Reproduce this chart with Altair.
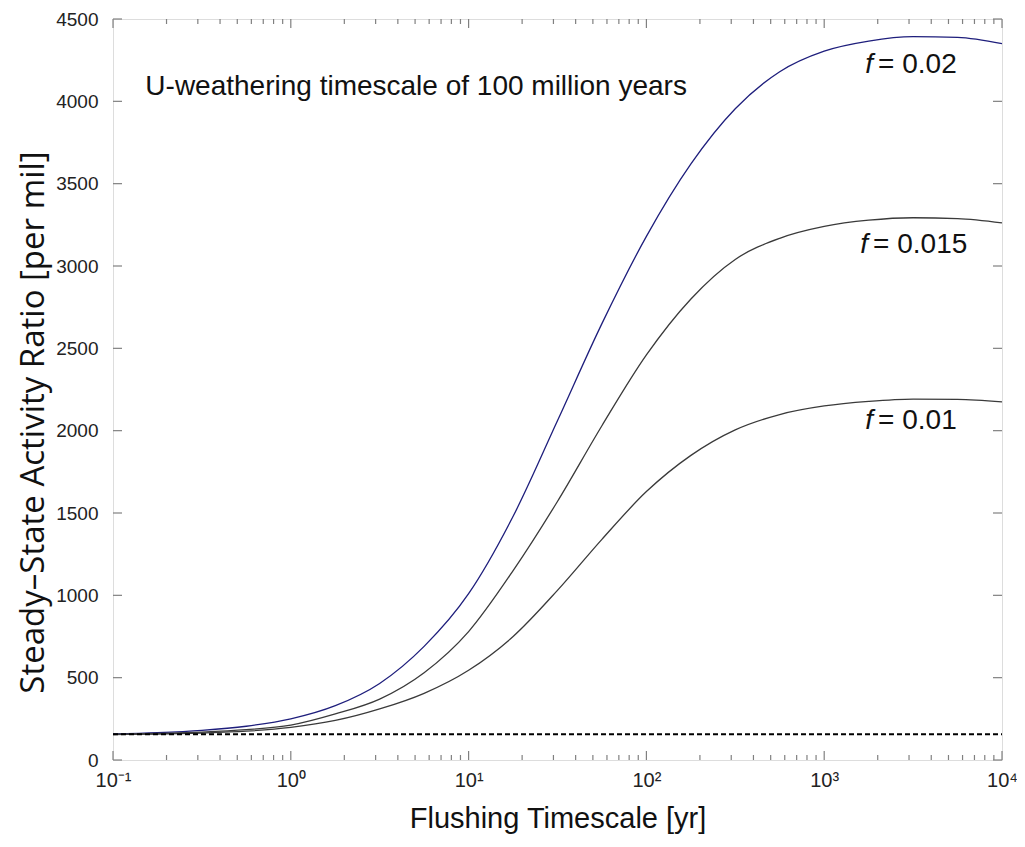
import altair as alt
import pandas as pd

# ---- data ----
tau = [0.1, 0.178, 0.316, 0.562, 1, 1.78, 3.16, 5.62, 10, 17.8, 31.6, 56.2,
       100, 178, 316, 562, 1000, 1780, 3160, 5620, 10000]
f_002 = [158, 166, 180, 205, 250, 330, 465, 690, 1010, 1480, 2060, 2650,
         3180, 3620, 3955, 4180, 4305, 4366, 4393, 4388, 4350]
f_0015 = [156, 161, 169, 184, 212, 280, 370, 530, 780, 1150, 1570, 2030,
          2460, 2800, 3040, 3168, 3240, 3278, 3293, 3288, 3262]
f_001 = [155, 158, 164, 175, 198, 240, 310, 405, 545, 750, 1030, 1340,
         1630, 1850, 2005, 2098, 2150, 2178, 2192, 2190, 2175]
baseline_value = 157

x_major = [0.1, 1, 10, 100, 1000, 10000]
x_minor = [m * d for d in [0.1, 1, 10, 100, 1000] for m in range(2, 10)]
y_major = [0, 500, 1000, 1500, 2000, 2500, 3000, 3500, 4000, 4500]

series_names = ["0.02", "0.015", "0.01"]
label_x = [2010, 1884, 2010]
label_y = [4220, 3127, 2059]
note_text = "U-weathering timescale of 100 million years"
note_x = 0.152
note_y = 4087

W, H = 889, 741
FONT = "Liberation Sans"

rows = []
for name, vals in zip(series_names, [f_002, f_0015, f_001]):
    for t, v in zip(tau, vals):
        rows.append({"tau": t, "ratio": v, "f": name})
df = pd.DataFrame(rows)

xscale = alt.Scale(type="log", domain=[0.1, 10000], nice=False)
yscale = alt.Scale(domain=[0, 4500], nice=False, zero=False)

label_expr = ("datum.value < 0.5 ? '10⁻¹' : datum.value < 5 ? '10⁰' : datum.value < 50 ? '10¹' : "
              "datum.value < 500 ? '10²' : datum.value < 5000 ? '10³' : '10⁴'")

base = alt.Chart(df)

lines = base.mark_line(interpolate="monotone", strokeWidth=1.3).encode(
    x=alt.X("tau:Q", scale=xscale,
            axis=alt.Axis(values=x_major, labelExpr=label_expr, ticks=False, domain=False,
                          grid=False, labelFontSize=20, labelFont=FONT, labelColor="#222",
                          labelPadding=10, labelFlush=False,
                          title="Flushing Timescale [yr]", titleFont=FONT, titleFontSize=29,
                          titleFontWeight="normal", titleColor="#111",
                          titleX=W / 2, titleY=58, titleBaseline="middle", titleAnchor="middle")),
    y=alt.Y("ratio:Q", scale=yscale,
            axis=alt.Axis(values=y_major, format="d", ticks=False, domain=False, grid=False,
                          labelFontSize=19, labelFont=FONT, labelColor="#222", labelPadding=15,
                          title="Steady–State Activity Ratio [per mil]", titleFont="Open Sans",
                          titleFontSize=33, titleFontWeight="normal", titleColor="#111",
                          titleX=-80, titleY=403, titleAngle=-90, titleBaseline="middle",
                          titleAlign="center")),
    color=alt.Color("f:N", scale=alt.Scale(domain=series_names,
                                           range=["#1e1e7c", "#3a3a3a", "#3a3a3a"]), legend=None),
    detail="f:N",
)

base_df = pd.DataFrame({"tau": [0.1, 10000], "ratio": [baseline_value, baseline_value]})
baseline = alt.Chart(base_df).mark_line(color="black", strokeWidth=2, strokeDash=[5, 3]).encode(
    x=alt.X("tau:Q", scale=xscale), y=alt.Y("ratio:Q", scale=yscale))

# inward ticks
xmaj_df = pd.DataFrame({"v": x_major})
xmin_df = pd.DataFrame({"v": x_minor})
ymaj_df = pd.DataFrame({"v": y_major})
tick_style = dict(color="#808080", strokeWidth=1.2)
tick_layers = []
for d, L in [(xmaj_df, 9), (xmin_df, 5)]:
    tick_layers.append(alt.Chart(d).mark_rule(**tick_style).encode(
        x=alt.X("v:Q", scale=xscale), y=alt.value(H), y2=alt.value(H - L)))
    tick_layers.append(alt.Chart(d).mark_rule(**tick_style).encode(
        x=alt.X("v:Q", scale=xscale), y=alt.value(0), y2=alt.value(L)))
tick_layers.append(alt.Chart(ymaj_df).mark_rule(**tick_style).encode(
    y=alt.Y("v:Q", scale=yscale), x=alt.value(0), x2=alt.value(9)))
tick_layers.append(alt.Chart(ymaj_df).mark_rule(**tick_style).encode(
    y=alt.Y("v:Q", scale=yscale), x=alt.value(W), x2=alt.value(W - 9)))

lab_df = pd.DataFrame({"tau": label_x, "ratio": label_y,
                       "txt": ["= " + s for s in series_names], "f": ["f"] * 3})
lab_main = alt.Chart(lab_df).mark_text(align="left", baseline="middle", fontSize=28,
                                       font=FONT, color="#111").encode(
    x=alt.X("tau:Q", scale=xscale), y=alt.Y("ratio:Q", scale=yscale), text="txt:N")
lab_f = alt.Chart(lab_df).mark_text(align="right", baseline="middle", fontSize=28, dx=-5,
                                    font=FONT, fontStyle="italic", color="#111").encode(
    x=alt.X("tau:Q", scale=xscale), y=alt.Y("ratio:Q", scale=yscale), text="f:N")

note_df = pd.DataFrame({"tau": [note_x], "ratio": [note_y], "txt": [note_text]})
note = alt.Chart(note_df).mark_text(align="left", baseline="middle", fontSize=28,
                                    font=FONT, color="#111").encode(
    x=alt.X("tau:Q", scale=xscale), y=alt.Y("ratio:Q", scale=yscale), text="txt:N")

chart = alt.layer(lines, baseline, *tick_layers, lab_main, lab_f, note).properties(
    width=W, height=H,
    autosize=alt.AutoSizeParams(type="none"),
    padding={"left": 105, "top": 11, "right": 15, "bottom": 79},
).configure_view(stroke="#808080", strokeWidth=2).configure(background="white")

chart.save("out.html", embed_options={"renderer": "svg", "actions": False})
